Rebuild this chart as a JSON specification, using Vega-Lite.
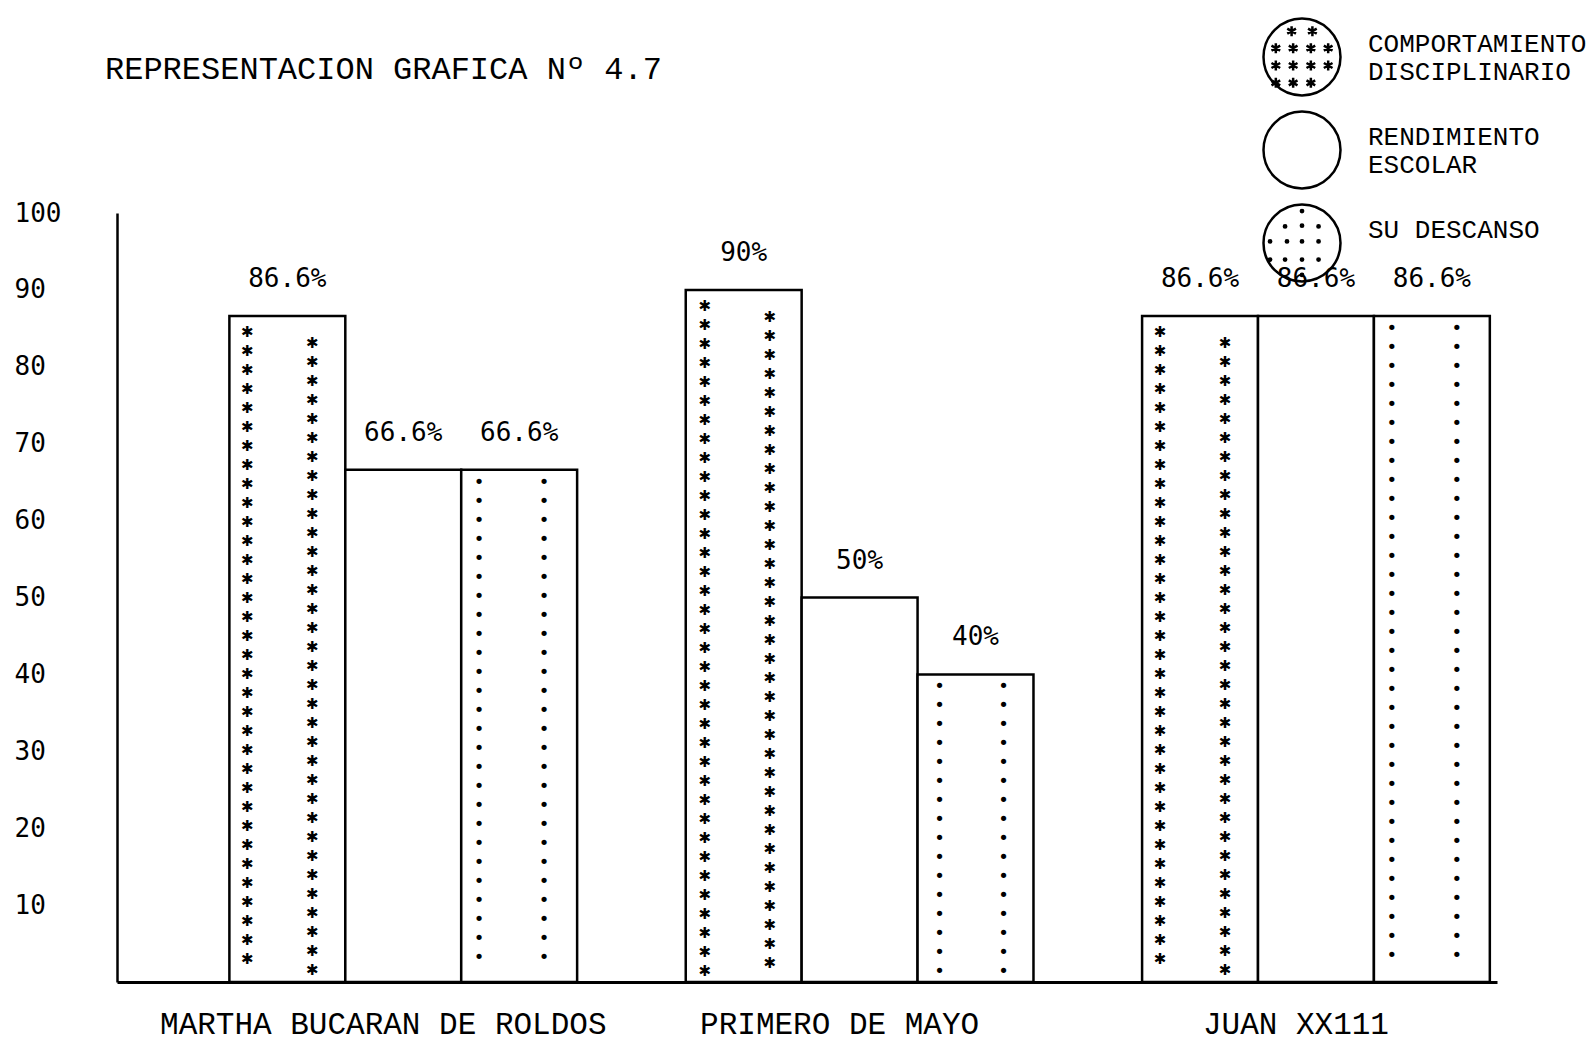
{
  "$schema": "https://vega.github.io/schema/vega-lite/v6.json",
  "width": 1380,
  "height": 769,
  "autosize": {"type": "none"},
  "padding": {"left": 117, "top": 213, "right": 94, "bottom": 62},
  "background": "white",
  "title": {"text": "REPRESENTACION GRAFICA Nº 4.7", "anchor": "start", "frame": "group", "font": "Liberation Mono", "fontSize": 32, "fontWeight": "normal", "color": "black", "offset": -69, "dx": -12},
  "data": {"values": [
    {"escuela": "MARTHA BUCARAN DE ROLDOS", "serie": "COMPORTAMIENTO DISCIPLINARIO", "valor": 86.6},
    {"escuela": "MARTHA BUCARAN DE ROLDOS", "serie": "RENDIMIENTO ESCOLAR", "valor": 66.6},
    {"escuela": "MARTHA BUCARAN DE ROLDOS", "serie": "SU DESCANSO", "valor": 66.6},
    {"escuela": "PRIMERO DE MAYO", "serie": "COMPORTAMIENTO DISCIPLINARIO", "valor": 90},
    {"escuela": "PRIMERO DE MAYO", "serie": "RENDIMIENTO ESCOLAR", "valor": 50},
    {"escuela": "PRIMERO DE MAYO", "serie": "SU DESCANSO", "valor": 40},
    {"escuela": "JUAN XX111", "serie": "COMPORTAMIENTO DISCIPLINARIO", "valor": 86.6},
    {"escuela": "JUAN XX111", "serie": "RENDIMIENTO ESCOLAR", "valor": 86.6},
    {"escuela": "JUAN XX111", "serie": "SU DESCANSO", "valor": 86.6}
  ]},
  "transform": [{"calculate": "format(datum.valor, '.3~g') + '%'", "as": "etiqueta"}],
  "encoding": {
    "x": {"field": "escuela", "type": "nominal", "sort": ["MARTHA BUCARAN DE ROLDOS", "PRIMERO DE MAYO", "JUAN XX111"],
      "scale": {"paddingInner": 0.238, "paddingOuter": 0.131, "align": 0.94},
      "axis": {"title": null, "labelAngle": 0, "ticks": false, "tickSize": 0, "domainColor": "black", "domainWidth": 3, "labelFont": "Liberation Mono", "labelFontSize": 31, "labelColor": "black", "labelPadding": 27, "labelOffset": -20, "labelLimit": 0, "grid": false}},
    "xOffset": {"field": "serie", "type": "nominal", "sort": ["COMPORTAMIENTO DISCIPLINARIO", "RENDIMIENTO ESCOLAR", "SU DESCANSO"], "scale": {"paddingInner": 0, "paddingOuter": 0}},
    "y": {"field": "valor", "type": "quantitative", "scale": {"domain": [0, 100], "nice": false},
      "axis": {"title": null, "values": [10, 20, 30, 40, 50, 60, 70, 80, 90, 100], "ticks": false, "tickSize": 0, "grid": false, "domainColor": "black", "domainWidth": 2.5, "labelFont": "DejaVu Sans Mono", "labelFontSize": 26, "labelColor": "black", "labelAlign": "left", "labelPadding": 103, "labelBaseline": "middle"}}
  },
  "layer": [
    {"mark": {"type": "bar", "fill": "white", "stroke": "black", "strokeWidth": 2.5}},
    {"transform": [{"filter": "datum.serie == 'COMPORTAMIENTO DISCIPLINARIO' && datum.escuela != 'PRIMERO DE MAYO'"}],
     "mark": {"type": "text", "dx": -40, "dy": 9, "baseline": "top", "align": "center", "font": "DejaVu Sans", "fontSize": 15, "lineHeight": 19, "color": "black",
       "text": ["✱","✱","✱","✱","✱","✱","✱","✱","✱","✱","✱","✱","✱","✱","✱","✱","✱","✱","✱","✱","✱","✱","✱","✱","✱","✱","✱","✱","✱","✱","✱","✱","✱","✱"]}},
    {"transform": [{"filter": "datum.serie == 'COMPORTAMIENTO DISCIPLINARIO' && datum.escuela != 'PRIMERO DE MAYO'"}],
     "mark": {"type": "text", "dx": 25, "dy": 20, "baseline": "top", "align": "center", "font": "DejaVu Sans", "fontSize": 15, "lineHeight": 19, "color": "black",
       "text": ["✱","✱","✱","✱","✱","✱","✱","✱","✱","✱","✱","✱","✱","✱","✱","✱","✱","✱","✱","✱","✱","✱","✱","✱","✱","✱","✱","✱","✱","✱","✱","✱","✱","✱"]}},
    {"transform": [{"filter": "datum.serie == 'COMPORTAMIENTO DISCIPLINARIO' && datum.escuela == 'PRIMERO DE MAYO'"}],
     "mark": {"type": "text", "dx": -39, "dy": 9, "baseline": "top", "align": "center", "font": "DejaVu Sans", "fontSize": 15, "lineHeight": 19, "color": "black",
       "text": ["✱","✱","✱","✱","✱","✱","✱","✱","✱","✱","✱","✱","✱","✱","✱","✱","✱","✱","✱","✱","✱","✱","✱","✱","✱","✱","✱","✱","✱","✱","✱","✱","✱","✱","✱","✱"]}},
    {"transform": [{"filter": "datum.serie == 'COMPORTAMIENTO DISCIPLINARIO' && datum.escuela == 'PRIMERO DE MAYO'"}],
     "mark": {"type": "text", "dx": 26, "dy": 20, "baseline": "top", "align": "center", "font": "DejaVu Sans", "fontSize": 15, "lineHeight": 19, "color": "black",
       "text": ["✱","✱","✱","✱","✱","✱","✱","✱","✱","✱","✱","✱","✱","✱","✱","✱","✱","✱","✱","✱","✱","✱","✱","✱","✱","✱","✱","✱","✱","✱","✱","✱","✱","✱","✱"]}},
    {"transform": [{"filter": "datum.serie == 'SU DESCANSO' && datum.escuela == 'MARTHA BUCARAN DE ROLDOS'"}],
     "mark": {"type": "text", "dx": -40, "dy": 4, "baseline": "top", "align": "center", "font": "DejaVu Sans", "fontSize": 18, "lineHeight": 19, "color": "black",
       "text": ["•","•","•","•","•","•","•","•","•","•","•","•","•","•","•","•","•","•","•","•","•","•","•","•","•","•"]}},
    {"transform": [{"filter": "datum.serie == 'SU DESCANSO' && datum.escuela == 'MARTHA BUCARAN DE ROLDOS'"}],
     "mark": {"type": "text", "dx": 25, "dy": 4, "baseline": "top", "align": "center", "font": "DejaVu Sans", "fontSize": 18, "lineHeight": 19, "color": "black",
       "text": ["•","•","•","•","•","•","•","•","•","•","•","•","•","•","•","•","•","•","•","•","•","•","•","•","•","•"]}},
    {"transform": [{"filter": "datum.serie == 'SU DESCANSO' && datum.escuela == 'PRIMERO DE MAYO'"}],
     "mark": {"type": "text", "dx": -36, "dy": 4, "baseline": "top", "align": "center", "font": "DejaVu Sans", "fontSize": 18, "lineHeight": 19, "color": "black",
       "text": ["•","•","•","•","•","•","•","•","•","•","•","•","•","•","•","•"]}},
    {"transform": [{"filter": "datum.serie == 'SU DESCANSO' && datum.escuela == 'PRIMERO DE MAYO'"}],
     "mark": {"type": "text", "dx": 28, "dy": 4, "baseline": "top", "align": "center", "font": "DejaVu Sans", "fontSize": 18, "lineHeight": 19, "color": "black",
       "text": ["•","•","•","•","•","•","•","•","•","•","•","•","•","•","•","•"]}},
    {"transform": [{"filter": "datum.serie == 'SU DESCANSO' && datum.escuela == 'JUAN XX111'"}],
     "mark": {"type": "text", "dx": -40, "dy": 4, "baseline": "top", "align": "center", "font": "DejaVu Sans", "fontSize": 18, "lineHeight": 19, "color": "black",
       "text": ["•","•","•","•","•","•","•","•","•","•","•","•","•","•","•","•","•","•","•","•","•","•","•","•","•","•","•","•","•","•","•","•","•","•"]}},
    {"transform": [{"filter": "datum.serie == 'SU DESCANSO' && datum.escuela == 'JUAN XX111'"}],
     "mark": {"type": "text", "dx": 25, "dy": 4, "baseline": "top", "align": "center", "font": "DejaVu Sans", "fontSize": 18, "lineHeight": 19, "color": "black",
       "text": ["•","•","•","•","•","•","•","•","•","•","•","•","•","•","•","•","•","•","•","•","•","•","•","•","•","•","•","•","•","•","•","•","•","•"]}},
    {"mark": {"type": "text", "dy": -37, "baseline": "middle", "align": "center", "font": "DejaVu Sans Mono", "fontSize": 26, "color": "black"},
     "encoding": {"text": {"field": "etiqueta"}}},
    {"mark": {"type": "point", "opacity": 0},
     "encoding": {"shape": {"field": "serie", "type": "nominal", "sort": ["COMPORTAMIENTO DISCIPLINARIO", "RENDIMIENTO ESCOLAR", "SU DESCANSO"],
       "scale": {"range": [
         "M -1,0 A 1,1 0 1,0 1,0 A 1,1 0 1,0 -1,0 Z M -0.27,-0.8 L -0.27,-0.54 M -0.383,-0.735 L -0.157,-0.605 M -0.383,-0.605 L -0.157,-0.735 M 0.27,-0.8 L 0.27,-0.54 M 0.157,-0.735 L 0.383,-0.605 M 0.157,-0.605 L 0.383,-0.735 M -0.68,-0.36 L -0.68,-0.1 M -0.793,-0.295 L -0.567,-0.165 M -0.793,-0.165 L -0.567,-0.295 M -0.23,-0.36 L -0.23,-0.1 M -0.343,-0.295 L -0.117,-0.165 M -0.343,-0.165 L -0.117,-0.295 M 0.23,-0.36 L 0.23,-0.1 M 0.117,-0.295 L 0.343,-0.165 M 0.117,-0.165 L 0.343,-0.295 M 0.68,-0.36 L 0.68,-0.1 M 0.567,-0.295 L 0.793,-0.165 M 0.567,-0.165 L 0.793,-0.295 M -0.68,0.09 L -0.68,0.35 M -0.793,0.155 L -0.567,0.285 M -0.793,0.285 L -0.567,0.155 M -0.23,0.09 L -0.23,0.35 M -0.343,0.155 L -0.117,0.285 M -0.343,0.285 L -0.117,0.155 M 0.23,0.09 L 0.23,0.35 M 0.117,0.155 L 0.343,0.285 M 0.117,0.285 L 0.343,0.155 M 0.68,0.09 L 0.68,0.35 M 0.567,0.155 L 0.793,0.285 M 0.567,0.285 L 0.793,0.155 M -0.68,0.54 L -0.68,0.8 M -0.793,0.605 L -0.567,0.735 M -0.793,0.735 L -0.567,0.605 M -0.23,0.54 L -0.23,0.8 M -0.343,0.605 L -0.117,0.735 M -0.343,0.735 L -0.117,0.605 M 0.23,0.54 L 0.23,0.8 M 0.117,0.605 L 0.343,0.735 M 0.117,0.735 L 0.343,0.605",
         "M -1,0 A 1,1 0 1,0 1,0 A 1,1 0 1,0 -1,0 Z",
         "M -1,0 A 1,1 0 1,0 1,0 A 1,1 0 1,0 -1,0 Z M -0.03,-0.83 A 0.03,0.03 0 1,0 0.03,-0.83 A 0.03,0.03 0 1,0 -0.03,-0.83 Z M -0.47,-0.43 A 0.03,0.03 0 1,0 -0.41,-0.43 A 0.03,0.03 0 1,0 -0.47,-0.43 Z M -0.03,-0.45 A 0.03,0.03 0 1,0 0.03,-0.45 A 0.03,0.03 0 1,0 -0.03,-0.45 Z M 0.4,-0.43 A 0.03,0.03 0 1,0 0.46,-0.43 A 0.03,0.03 0 1,0 0.4,-0.43 Z M -0.86,-0.04 A 0.03,0.03 0 1,0 -0.8,-0.04 A 0.03,0.03 0 1,0 -0.86,-0.04 Z M -0.42,-0.04 A 0.03,0.03 0 1,0 -0.36,-0.04 A 0.03,0.03 0 1,0 -0.42,-0.04 Z M -0.03,-0.04 A 0.03,0.03 0 1,0 0.03,-0.04 A 0.03,0.03 0 1,0 -0.03,-0.04 Z M 0.4,-0.04 A 0.03,0.03 0 1,0 0.46,-0.04 A 0.03,0.03 0 1,0 0.4,-0.04 Z M -0.86,0.43 A 0.03,0.03 0 1,0 -0.8,0.43 A 0.03,0.03 0 1,0 -0.86,0.43 Z M -0.47,0.43 A 0.03,0.03 0 1,0 -0.41,0.43 A 0.03,0.03 0 1,0 -0.47,0.43 Z M -0.03,0.43 A 0.03,0.03 0 1,0 0.03,0.43 A 0.03,0.03 0 1,0 -0.03,0.43 Z M 0.4,0.43 A 0.03,0.03 0 1,0 0.46,0.43 A 0.03,0.03 0 1,0 0.4,0.43 Z M -0.03,0.83 A 0.03,0.03 0 1,0 0.03,0.83 A 0.03,0.03 0 1,0 -0.03,0.83 Z"
       ]},
       "legend": {"title": null, "orient": "none", "legendX": 1145, "legendY": -196, "padding": 0, "rowPadding": 5, "symbolSize": 5929, "symbolStrokeWidth": 2.5, "symbolStrokeColor": "black", "symbolFillColor": "transparent", "symbolOpacity": 1, "labelFont": "Liberation Mono", "labelFontSize": 26, "labelFontWeight": "normal", "labelColor": "black", "labelOffset": 26, "labelLimit": 0, "labelBaseline": "bottom",
         "labelExpr": "datum.label == 'SU DESCANSO' ? datum.label : split(datum.label, ' ')"}
     }}}
  ],
  "config": {"view": {"stroke": null}}
}
